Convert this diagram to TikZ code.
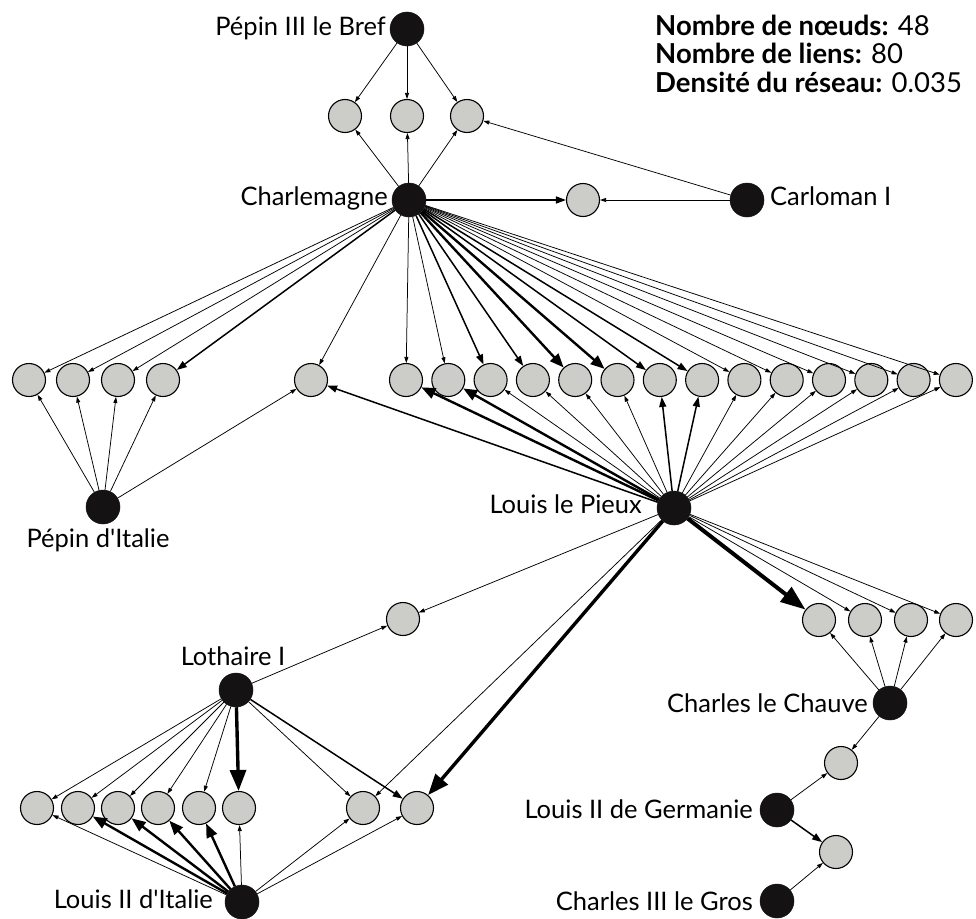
\documentclass[tikz,border=0pt]{standalone}
\usepackage{fontspec}
\setmainfont{Lato}[Ligatures=TeXOff]
\usetikzlibrary{arrows.meta}
\definecolor{ngray}{RGB}{204,204,200}
\definecolor{nblack}{RGB}{20,18,18}
\begin{document}
\begin{tikzpicture}[x=1pt,y=-1pt,
  gnode/.style={circle,fill=ngray,draw=black,line width=1.1pt,minimum size=33pt,inner sep=0pt},
  bnode/.style={circle,fill=nblack,draw=nblack,line width=0.5pt,minimum size=34pt,inner sep=0pt},
  thinA/.style={line width=0.75pt,-{Triangle[length=6pt,width=4pt]}},
  medA/.style={line width=1.5pt,-{Triangle[length=10pt,width=7pt]}},
  thkA/.style={line width=2.4pt,-{Triangle[length=14pt,width=11pt]}},
  xthkA/.style={line width=3.4pt,-{Triangle[length=21pt,width=16pt]}},
  lab/.style={inner sep=0pt,font=\fontsize{25.5}{28}\selectfont},
  leg/.style={inner sep=0pt,font=\fontsize{27.5}{28.5}\selectfont,anchor=base west}
]
\useasboundingbox (0,0) rectangle (976,918);
\fill[white] (0,0) rectangle (976,918);

% legend
\node[leg] (leg1) at (655,35) {\textbf{Nombre de nœuds:} 48};
\node[leg] (leg2) at (655,63.5) {\textbf{Nombre de liens:} 80};
\node[leg] (leg3) at (655,92) {\textbf{Densité du réseau:} 0.035};

% black nodes
\node[bnode] (p3) at (407,29) {};
\node[bnode] (ch) at (409,200) {};
\node[bnode] (ca) at (747,200) {};
\node[bnode] (pi) at (103,507) {};
\node[bnode] (lp) at (674,508) {};
\node[bnode] (lo) at (236,690) {};
\node[bnode] (cc) at (890,703) {};
\node[bnode] (lg) at (777,810) {};
\node[bnode] (cg) at (777,901) {};
\node[bnode] (li) at (242,902) {};

% gray nodes
\node[gnode] (g1a) at (345,116) {};
\node[gnode] (g1b) at (407,116) {};
\node[gnode] (g1c) at (467,116) {};
\node[gnode] (gc) at (583,200) {};
\foreach \i/\x in {1/29,2/73,3/118,4/163} \node[gnode] (L\i) at (\x,380) {};
\node[gnode] (S) at (311,380) {};
\foreach \i in {1,...,14} \node[gnode] (R\i) at ({406+42.3*(\i-1)},380) {};
\node[gnode] (q) at (403,619) {};
\foreach \i/\x in {1/819,2/865,3/911,4/956} \node[gnode] (C\i) at (\x,620) {};
\node[gnode] (h) at (841,763) {};
\node[gnode] (k) at (836,852) {};
\foreach \i/\x in {1/37,2/78,3/118,4/158,5/199,6/239,7/363,8/417} \node[gnode] (B\i) at (\x,808) {};

% labels
\node[lab,anchor=base east] (tp3) at (386,35) {Pépin III le Bref};
\node[lab,anchor=base east] (tch) at (388,205) {Charlemagne};
\node[lab,anchor=base west] (tca) at (770,205) {Carloman I};
\node[lab,anchor=base] (tpi) at (98,547) {Pépin d'Italie};
\node[lab,anchor=base east] (tlp) at (642,513) {Louis le Pieux};
\node[lab,anchor=base] (tlo) at (233,665) {Lothaire I};
\node[lab,anchor=base east] (tcc) at (868,712) {Charles le Chauve};
\node[lab,anchor=base east] (tlg) at (753,818) {Louis II de Germanie};
\node[lab,anchor=base east] (tcg) at (753,910) {Charles III le Gros};
\node[lab,anchor=base east] (tli) at (213,908) {Louis II d'Italie};

% edges: top
\foreach \t in {g1a,g1b,g1c} \draw[thinA] (p3) -- (\t);
\foreach \t in {g1a,g1b,g1c} \draw[thinA] (ch) -- (\t);
\draw[thinA] (ca) -- (g1c);
\draw[medA] (ch) -- (gc);
\draw[thinA] (ca) -- (gc);

% Charlemagne to row 2
\foreach \t in {L1,L2,L3,S} \draw[thinA] (ch) -- (\t);
\draw[medA] (ch) -- (L4);
\foreach \i in {1,2,9,10,11,12,13,14} \draw[thinA] (ch) -- (R\i);
\foreach \i in {3,4,7,8} \draw[medA] (ch) -- (R\i);
\foreach \i in {5,6} \draw[thkA] (ch) -- (R\i);

% Pepin d'Italie
\foreach \t in {L1,L2,L3,L4,S} \draw[thinA] (pi) -- (\t);

% Louis le Pieux
\draw[medA] (lp) -- (S);
\foreach \i in {1,2} \draw[thkA] (lp) -- (R\i);
\foreach \i in {3,4,5,6,9,10,11,12,13,14} \draw[thinA] (lp) -- (R\i);
\foreach \i in {7,8} \draw[medA] (lp) -- (R\i);
\draw[thinA] (lp) -- (q);
\draw[thinA] (lp) -- (B7);
\draw[xthkA] (lp) -- (B8);
\draw[line width=4pt,-{Triangle[length=25pt,width=18pt]}] (lp) -- (C1);
\foreach \i in {2,3,4} \draw[thinA] (lp) -- (C\i);

% Charles le Chauve and the rest
\foreach \i in {1,2,3,4} \draw[thinA] (cc) -- (C\i);
\draw[thinA] (cc) -- (h);
\draw[thinA] (lg) -- (h);
\draw[medA] (lg) -- (k);
\draw[thinA] (cg) -- (k);

% Lothaire
\draw[thinA] (lo) -- (q);
\foreach \i in {1,2,3,4,5,7} \draw[thinA] (lo) -- (B\i);
\draw[xthkA] (lo) -- (B6);
\draw[medA] (lo) -- (B8);

% Louis II d'Italie
\foreach \i in {1,6,7,8} \draw[thinA] (li) -- (B\i);
\foreach \i in {2,3,4,5} \draw[thkA] (li) -- (B\i);
\end{tikzpicture}
\end{document}
